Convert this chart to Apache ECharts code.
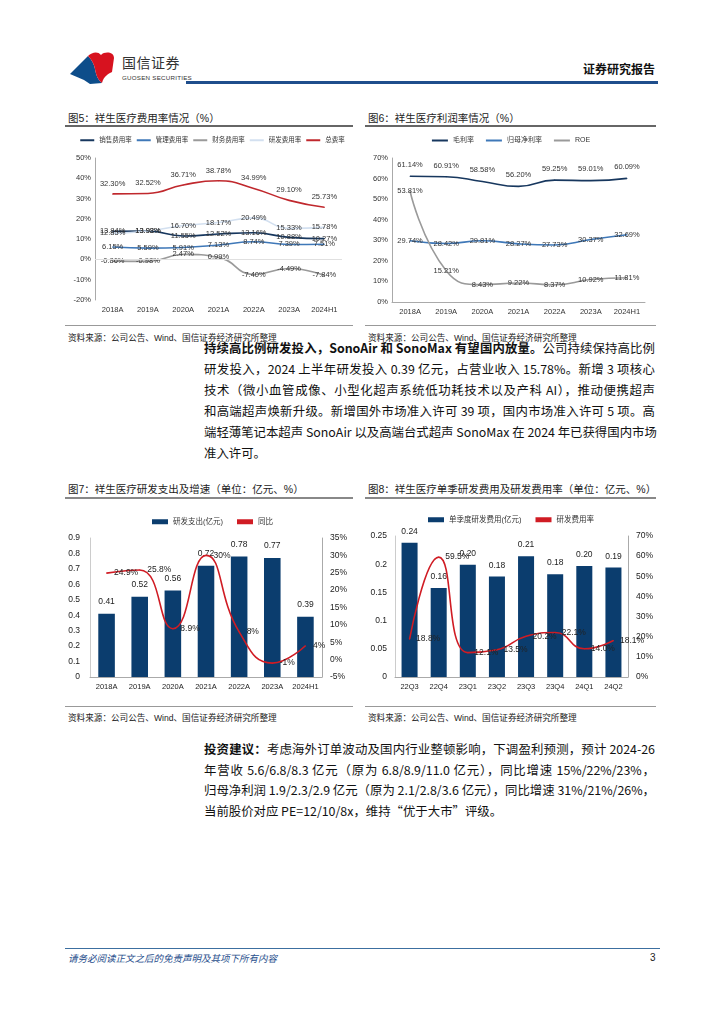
<!DOCTYPE html>
<html><head><meta charset="utf-8">
<script src="https://cdn.jsdelivr.net/npm/echarts@6/dist/echarts.min.js"></script>
<style>
body{margin:0;width:724px;height:1024px;background:#fff;position:relative;font-family:"Liberation Sans",Arial,"Noto Sans CJK SC",sans-serif;color:#111;overflow:hidden}
.abs{position:absolute}
.t{position:absolute;font-size:10.5px;color:#222;white-space:nowrap}
.src{position:absolute;font-size:8.6px;color:#222;white-space:nowrap}
.ln{position:absolute;width:451px;left:204px;font-size:12.4px;line-height:21px;text-align:justify;text-align-last:justify;white-space:nowrap;font-family:"Noto Sans CJK SC",sans-serif;color:#111}
.ln.last{text-align-last:left}
</style></head><body>
<!-- header -->
<svg class="abs" style="left:68px;top:50px" width="50" height="36" viewBox="0 0 50 36">
 <path d="M2 24 L20 6 C24 10 26 14 27 19 C28 25 30 30 34 33 L22 34 L16 30 Z" fill="#0d4d8a"/>
 <path d="M20 6 C24 2 30 1 33 5 C37 1 46 2 46 8 L44 22 C40 24 36 26 34 33 C30 30 28 25 27 19 C26 14 24 10 20 6 Z" fill="#d7121f"/>
</svg>
<div class="abs" style="left:122px;top:53px;font-size:14px;line-height:18px;color:#333;font-family:'Noto Sans CJK SC';letter-spacing:0.5px">国信证券</div>
<div class="abs" style="left:122px;top:74px;font-size:6.2px;color:#333;letter-spacing:0.25px;white-space:nowrap">GUOSEN SECURITIES</div>
<div class="abs" style="left:583px;top:60px;font-size:12px;font-weight:bold;color:#111;font-family:'Noto Sans CJK SC'">证券研究报告</div>
<div class="abs" style="left:186px;top:81px;width:472px;height:2.5px;background:#1f4e8c"></div>

<!-- chart titles -->
<div class="t" style="left:68px;top:110px">图5：祥生医疗费用率情况（%）</div>
<div class="abs" style="left:65px;top:125px;width:288px;height:1.5px;background:#666"></div>
<div class="t" style="left:368px;top:110px">图6：祥生医疗利润率情况（%）</div>
<div class="abs" style="left:365px;top:125px;width:291px;height:1.5px;background:#666"></div>

<div id="c5" class="abs" style="left:65px;top:130px;width:295px;height:190px"></div>
<div id="c6" class="abs" style="left:362px;top:130px;width:298px;height:190px"></div>

<div class="abs" style="left:65px;top:325px;width:288px;height:1px;background:#999"></div>
<div class="abs" style="left:365px;top:325px;width:291px;height:1px;background:#999"></div>
<div class="src" style="left:68px;top:331px">资料来源：公司公告、Wind、国信证券经济研究所整理</div>
<div class="src" style="left:368px;top:331px">资料来源：公司公告、Wind、国信证券经济研究所整理</div>

<div class="ln" style="top:338px"><b>持续高比例研发投入，SonoAir 和 SonoMax 有望国内放量。</b>公司持续保持高比例</div>
<div class="ln" style="top:359px">研发投入，2024 上半年研发投入 0.39 亿元，占营业收入 15.78%。新增 3 项核心</div>
<div class="ln" style="top:380px">技术（微小血管成像、小型化超声系统低功耗技术以及产科 AI），推动便携超声</div>
<div class="ln" style="top:401px">和高端超声焕新升级。新增国外市场准入许可 39 项，国内市场准入许可 5 项。高</div>
<div class="ln" style="top:422px">端轻薄笔记本超声 SonoAir 以及高端台式超声 SonoMax 在 2024 年已获得国内市场</div>
<div class="ln last" style="top:443px">准入许可。</div>

<div class="t" style="left:68px;top:481px">图7：祥生医疗研发支出及增速（单位：亿元、%）</div>
<div class="abs" style="left:65px;top:497px;width:288px;height:1.5px;background:#888"></div>
<div class="t" style="left:368px;top:481px">图8：祥生医疗单季研发费用及研发费用率（单位：亿元、%）</div>
<div class="abs" style="left:365px;top:497px;width:291px;height:1.5px;background:#888"></div>

<div id="c7" class="abs" style="left:65px;top:505px;width:295px;height:195px"></div>
<div id="c8" class="abs" style="left:362px;top:505px;width:298px;height:195px"></div>

<div class="abs" style="left:65px;top:706px;width:288px;height:1px;background:#999"></div>
<div class="abs" style="left:365px;top:706px;width:291px;height:1px;background:#999"></div>
<div class="src" style="left:68px;top:711px">资料来源：公司公告、Wind、国信证券经济研究所整理</div>
<div class="src" style="left:368px;top:711px">资料来源：公司公告、Wind、国信证券经济研究所整理</div>

<div class="ln" style="top:739px"><b>投资建议：</b>考虑海外订单波动及国内行业整顿影响，下调盈利预测，预计 2024-26</div>
<div class="ln" style="top:760px">年营收 5.6/6.8/8.3 亿元（原为 6.8/8.9/11.0 亿元），同比增速 15%/22%/23%，</div>
<div class="ln" style="top:780px">归母净利润 1.9/2.3/2.9 亿元（原为 2.1/2.8/3.6 亿元），同比增速 31%/21%/26%，</div>
<div class="ln last" style="top:801px">当前股价对应 PE=12/10/8x，维持“优于大市”评级。</div>

<div class="abs" style="left:65px;top:948px;width:595px;height:1px;background:#3c6fa0"></div>
<div class="abs" style="left:68px;top:951px;font-size:9.5px;color:#1f4e8c;font-style:italic;font-family:'Noto Sans CJK SC'">请务必阅读正文之后的免责声明及其项下所有内容</div>
<div class="abs" style="left:650px;top:952px;font-size:10px;color:#222">3</div>

<script>
// ---------- data ----------
const years = ['2018A','2019A','2020A','2021A','2022A','2023A','2024H1'];
const salesRate = [13.84, 13.93, 11.55, 12.52, 13.16, 10.88, 10.27];
const adminRate = [6.15, 5.59, 5.91, 7.13, 8.74, 7.39, 7.51];
const finRate = [-0.86, -0.98, 2.47, 0.99, -7.40, -4.49, -7.84];
const rdRate = [12.85, 13.98, 16.70, 18.17, 20.49, 15.33, 15.78];
const totalRate = [32.30, 32.52, 36.71, 38.78, 34.99, 29.10, 25.73];

const grossMargin = [61.14, 60.91, 58.58, 56.20, 59.25, 59.01, 60.09];
const netMargin = [29.74, 28.42, 29.81, 28.27, 27.73, 30.37, 32.69];
const roe = [53.81, 15.21, 8.43, 9.22, 8.37, 10.92, 11.81];

const rdSpend = [0.41, 0.52, 0.56, 0.72, 0.78, 0.77, 0.39];
const rdYoy = [24.9, 25.8, 8.9, 30, 8, -1, 4];

const quarters = ['22Q3','22Q4','23Q1','23Q2','23Q3','23Q4','24Q1','24Q2'];
const qRdSpend = [0.238, 0.158, 0.199, 0.178, 0.214, 0.182, 0.197, 0.194];
const qRdRate = [18.8, 59.5, 12.1, 13.5, 20.2, 22.1, 14.0, 18.1];

const FONT = '"Liberation Sans",Arial,"Noto Sans CJK SC",sans-serif';
const AX = {color:'#333', fontSize:7.5, fontFamily:FONT};

function lineSeries(name, data, color, pos, dist){
  return {
    name, type:'line', data, smooth:true, symbol:'circle', symbolSize:1, showSymbol:true,
    lineStyle:{color, width:1.6}, itemStyle:{color},
    label:{show:true, position:pos, distance:dist==null?4:dist, fontSize:7.5, color:'#333', fontFamily:FONT,
      formatter:p=>p.value.toFixed(2)+'%'},
    z: 3
  };
}

// ---------- chart 5 ----------
const c5 = echarts.init(document.getElementById('c5'));
const fin = lineSeries('财务费用率', finRate, '#9a9a9a', 'inside');
fin.markLine = {silent:true, symbol:'none', label:{show:false}, data:[{yAxis:0}],
  lineStyle:{color:'#e0e0e0', type:'solid', width:1}};
c5.setOption({
  animation:false,
  textStyle:{fontFamily:FONT},
  legend:{top:7, left:'center', itemWidth:14, itemHeight:2, itemGap:5, padding:0,
    textStyle:{fontSize:6.5, color:'#333'}, icon:'rect',
    data:['销售费用率','管理费用率','财务费用率','研发费用率','总费率']},
  grid:{left:30, right:18, top:28, bottom:20},
  xAxis:{type:'category', data:years, boundaryGap:true,
    axisLine:{show:false, onZero:false}, axisTick:{show:false},
    axisLabel:Object.assign({margin:6, interval:0}, AX)},
  yAxis:{type:'value', min:-20, max:50, interval:10,
    axisLine:{show:true, lineStyle:{color:'#aaa'}}, axisTick:{show:false}, splitLine:{show:false},
    axisLabel:Object.assign({formatter:'{value}%', margin:4}, AX)},
  series:[
    lineSeries('销售费用率', salesRate, '#17375e', 'inside'),
    lineSeries('管理费用率', adminRate, '#3f78b8', 'inside'),
    fin,
    lineSeries('研发费用率', rdRate, '#d3e0f0', 'inside'),
    lineSeries('总费率', totalRate, '#c0282d', 'top', 6)
  ]
});

// ---------- chart 6 ----------
const c6 = echarts.init(document.getElementById('c6'));
c6.setOption({
  animation:false,
  textStyle:{fontFamily:FONT},
  legend:{top:7, left:'center', itemWidth:16, itemHeight:2, itemGap:12, padding:0,
    textStyle:{fontSize:7, color:'#333'}, icon:'rect',
    data:['毛利率','归母净利率','ROE']},
  grid:{left:30, right:15, top:28, bottom:18},
  xAxis:{type:'category', data:years, boundaryGap:true,
    axisLine:{show:true, lineStyle:{color:'#aaa'}}, axisTick:{show:false},
    axisLabel:Object.assign({margin:6, interval:0}, AX)},
  yAxis:{type:'value', min:0, max:70, interval:10,
    axisLine:{show:true, lineStyle:{color:'#aaa'}}, axisTick:{show:false}, splitLine:{show:false},
    axisLabel:Object.assign({formatter:'{value}%', margin:4}, AX)},
  series:[
    lineSeries('毛利率', grossMargin, '#17375e', 'top', 7),
    lineSeries('归母净利率', netMargin, '#3f78b8', 'inside'),
    lineSeries('ROE', roe, '#9a9a9a', 'inside')
  ]
});

// ---------- chart 7 ----------
const AX2 = {color:'#222', fontSize:8.5, fontFamily:FONT};
const c7 = echarts.init(document.getElementById('c7'));
c7.setOption({
  animation:false,
  textStyle:{fontFamily:FONT},
  legend:{top:13, left:'center', itemGap:14, padding:0, textStyle:{fontSize:7.5, color:'#333'},
    data:[{name:'研发支出(亿元)', icon:'rect'},{name:'同比', icon:'rect'}],
    itemWidth:16, itemHeight:5},
  grid:{left:25, right:38, top:33, bottom:23},
  xAxis:{type:'category', data:years,
    axisLine:{show:true, lineStyle:{color:'#aaa'}}, axisTick:{show:false},
    axisLabel:Object.assign({margin:6, interval:0}, AX2, {fontSize:7.5})},
  yAxis:[
    {type:'value', min:0, max:0.9, interval:0.1,
     axisLine:{show:true, lineStyle:{color:'#ccc'}}, axisTick:{show:false}, splitLine:{show:false},
     axisLabel:Object.assign({margin:10}, AX2)},
    {type:'value', min:-5, max:35, interval:5,
     axisLine:{show:true, lineStyle:{color:'#aaa'}}, axisTick:{show:false}, splitLine:{show:false},
     axisLabel:Object.assign({formatter:'{value}%', margin:8}, AX2)}
  ],
  series:[
    {name:'研发支出(亿元)', type:'bar', data:rdSpend, barWidth:'50%', z:2,
     itemStyle:{color:'#0b3d6e'},
     label:{show:true, position:'top', distance:8, fontSize:8.5, color:'#222', formatter:p=>p.value}},
    {name:'同比', type:'line', yAxisIndex:1, data:rdYoy, smooth:true, symbol:'circle', symbolSize:1, showSymbol:true, z:5,
     lineStyle:{color:'#d01c24', width:1.6}, itemStyle:{color:'#d01c24'},
     label:{show:true, position:'right', distance:7, fontSize:8.5, color:'#222', formatter:p=>p.value+'%'}}
  ]
});

// ---------- chart 8 ----------
const c8 = echarts.init(document.getElementById('c8'));
c8.setOption({
  animation:false,
  textStyle:{fontFamily:FONT},
  legend:{top:11, left:'center', itemGap:14, padding:0, textStyle:{fontSize:7.5, color:'#333'},
    data:[{name:'单季度研发费用(亿元)', icon:'rect'},{name:'研发费用率', icon:'rect'}],
    itemWidth:16, itemHeight:5},
  grid:{left:33, right:32, top:31, bottom:23},
  xAxis:{type:'category', data:quarters,
    axisLine:{show:true, lineStyle:{color:'#aaa'}}, axisTick:{show:false},
    axisLabel:Object.assign({margin:6, interval:0}, AX2, {fontSize:7.5})},
  yAxis:[
    {type:'value', min:0, max:0.25, interval:0.05,
     axisLine:{show:true, lineStyle:{color:'#ccc'}}, axisTick:{show:false}, splitLine:{show:false},
     axisLabel:Object.assign({margin:8}, AX2)},
    {type:'value', min:0, max:70, interval:10,
     axisLine:{show:true, lineStyle:{color:'#aaa'}}, axisTick:{show:false}, splitLine:{show:false},
     axisLabel:Object.assign({formatter:'{value}%', margin:8}, AX2)}
  ],
  series:[
    {name:'单季度研发费用(亿元)', type:'bar', data:qRdSpend, barWidth:'55%', z:2,
     itemStyle:{color:'#0b3d6e'},
     label:{show:true, position:'top', distance:7, fontSize:8.5, color:'#222', formatter:p=>p.value.toFixed(2)}},
    {name:'研发费用率', type:'line', yAxisIndex:1, data:qRdRate, smooth:true, symbol:'circle', symbolSize:1, showSymbol:true, z:5,
     lineStyle:{color:'#d01c24', width:1.6}, itemStyle:{color:'#d01c24'},
     label:{show:true, position:'right', distance:6, fontSize:8.5, color:'#222', formatter:p=>p.value.toFixed(1)+'%'}}
  ]
});
</script>
</body></html>
